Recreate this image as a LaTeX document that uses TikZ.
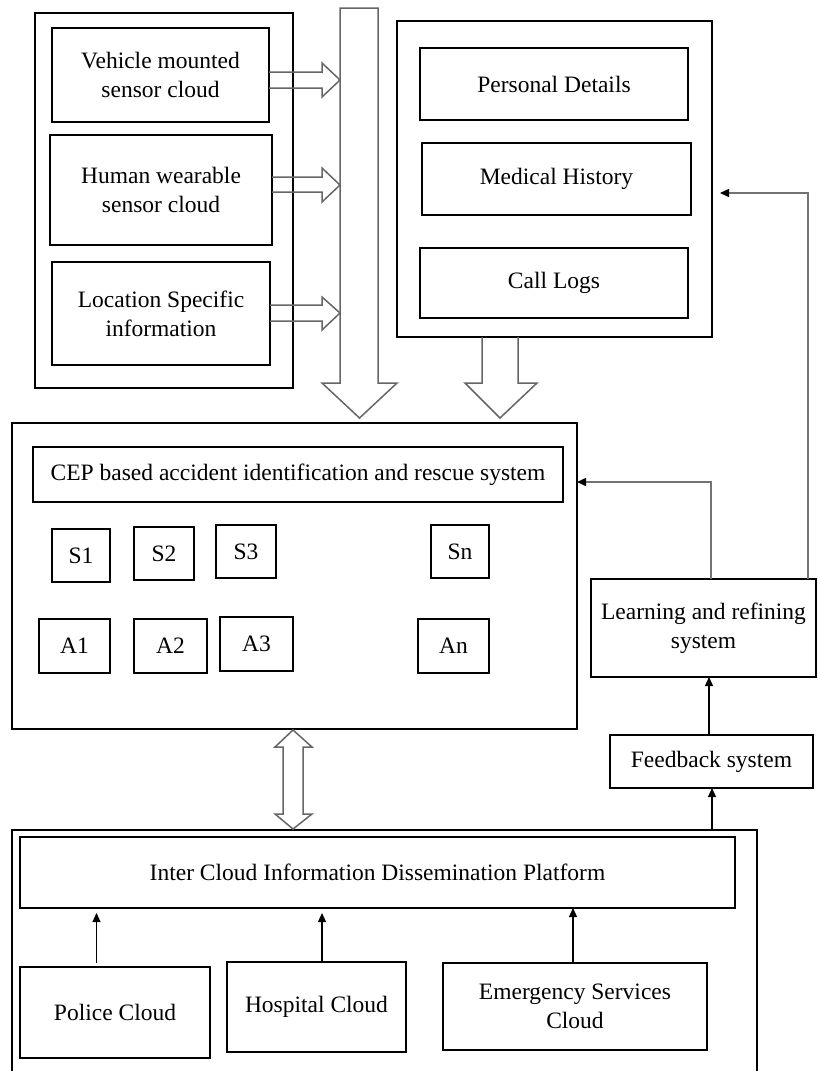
\documentclass[tikz,border=0pt]{standalone}
\usepackage{fontspec}
\setmainfont{Liberation Serif}
\usetikzlibrary{arrows.meta,calc}
\begin{document}
\begin{tikzpicture}[x=1pt,y=-1pt,
  box/.style={draw, line width=1.3pt, inner sep=0pt, outer sep=0pt, align=center, font=\fontsize{23.5}{29}\selectfont},
  blk/.style={draw=black!60, line width=1.5pt, line join=miter},
  arr/.style={draw, line width=1.2pt, -{Triangle[length=9pt,width=8pt]}},
  garr/.style={draw=black!55, line width=1.5pt, -{Triangle[length=9pt,width=8pt,fill=black,color=black]}}]
\useasboundingbox (0,0) rectangle (818,1071);
\fill[white] (0,0) rectangle (818,1071);

% sensor group
\node[box, minimum width=258pt, minimum height=375pt] (sens) at (164,200.5) {};
\node[box, minimum width=217pt, minimum height=94pt] (veh) at (160.5,75) {Vehicle mounted\\sensor cloud};
\node[box, minimum width=222pt, minimum height=110pt] (hum) at (161,190) {Human wearable\\sensor cloud};
\node[box, minimum width=218pt, minimum height=103pt] (loc) at (161,313.5) {Location Specific\\information};

% personal data group
\node[box, minimum width=315pt, minimum height=316pt] (pers) at (554.5,179) {};
\node[box, minimum width=268pt, minimum height=72pt] (pd) at (554,84) {Personal Details};
\node[box, minimum width=269pt, minimum height=72pt] (mh) at (556.5,179) {Medical History};
\node[box, minimum width=268pt, minimum height=70pt] (cl) at (554,283) {Call Logs};

% CEP system
\node[box, minimum width=565pt, minimum height=306pt] (cep) at (294.5,576) {};
\node[box, minimum width=530pt, minimum height=55pt] (ceptitle) at (298,474.5) {CEP based accident identification and rescue system};
\node[box, minimum width=58pt, minimum height=53pt] (s1) at (81,555.5) {S1};
\node[box, minimum width=60pt, minimum height=53pt] (s2) at (164,553.5) {S2};
\node[box, minimum width=60pt, minimum height=53pt] (s3) at (246,551.5) {S3};
\node[box, minimum width=58pt, minimum height=53pt] (sn) at (460,551.5) {Sn};
\node[box, minimum width=71pt, minimum height=54pt] (a1) at (74.5,646) {A1};
\node[box, minimum width=73pt, minimum height=54pt] (a2) at (170.5,646) {A2};
\node[box, minimum width=73pt, minimum height=54pt] (a3) at (256.5,644) {A3};
\node[box, minimum width=71pt, minimum height=54pt] (an) at (453.5,646) {An};

% learning / feedback
\node[box, minimum width=225pt, minimum height=98pt] (learn) at (703.5,628) {Learning and refining\\system};
\node[box, minimum width=203pt, minimum height=53pt] (fb) at (711.5,761.5) {Feedback system};

% dissemination platform
\node[box, minimum width=745pt, minimum height=260pt] (disp) at (384.5,960) {};
\node[box, minimum width=715pt, minimum height=71pt] (inter) at (377.5,872.5) {Inter Cloud Information Dissemination Platform};
\node[box, minimum width=190pt, minimum height=91pt] (police) at (115,1012.5) {Police Cloud};
\node[box, minimum width=179pt, minimum height=90pt] (hosp) at (316.5,1007) {Hospital Cloud};
\node[box, minimum width=264pt, minimum height=87pt] (emerg) at (575,1006.5) {Emergency Services\\Cloud};

% block arrows
\draw[blk] (340,8) -- (340,383) -- (322,383) -- (359.5,418) -- (397,383) -- (378,383) -- (378,8) -- cycle;
\draw[blk] (veh.east |- 0,72) -- (322,72) -- (322,63) -- (340,80) -- (322,97) -- (322,88) -- (veh.east |- 0,88);
\draw[blk] (hum.east |- 0,177) -- (322,177) -- (322,168) -- (340,185) -- (322,202) -- (322,192) -- (hum.east |- 0,192);
\draw[blk] (loc.east |- 0,305) -- (322,305) -- (322,297) -- (340,313) -- (322,330) -- (322,321) -- (loc.east |- 0,321);
\draw[blk] (482,0 |- pers.south) -- (482,383) -- (465,383) -- (500,418) -- (537,383) -- (518,383) -- (518,0 |- pers.south);
\draw[blk] (283,747) -- (275,747) -- (293,730) -- (312,747) -- (303,747) -- (303,814) -- (312,814) -- (293,829) -- (275,814) -- (283,814) -- cycle;

% connectors
\draw[arr] (96.5,963) -- (96.5,913);
\draw[arr] (322,0 |- hosp.north) -- (322,913);
\draw[arr] (573,0 |- emerg.north) -- (573,0 |- inter.south);
\draw[arr] (712,0 |- disp.north) -- (712,0 |- fb.south);
\draw[arr] (709,0 |- fb.north) -- (709,0 |- learn.south);
\draw[garr] (711,0 |- learn.north) |- (cep.east |- 0,482);
\draw[garr] (808,0 |- learn.north) |- (720,193);
\end{tikzpicture}
\end{document}
